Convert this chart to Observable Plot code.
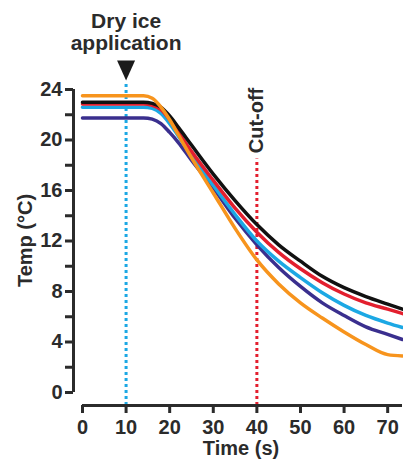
<!DOCTYPE html>
<html><head><meta charset="utf-8">
<script src="https://cdn.jsdelivr.net/npm/d3@7"></script>
<script src="https://cdn.jsdelivr.net/npm/@observablehq/plot@0.6"></script>
<style>html,body{margin:0;padding:0;background:#fff}</style>
</head><body><div id="chart"></div>
<script>
// time points (s)
const times = [0, 10, 14, 16, 18, 20, 22, 25, 30, 35, 40, 45, 50, 55, 60, 65, 70, 73.4];
// temperature series (°C)
const purpleSeries = [21.75, 21.75, 21.75, 21.65, 21.3, 20.6, 19.8, 18.4, 16.2, 13.8, 11.7, 9.9, 8.4, 7.1, 6.1, 5.2, 4.6, 4.2];
const blueSeries   = [22.6, 22.6, 22.6, 22.5, 22.1, 21.3, 20.3, 18.8, 16.4, 14.1, 12.0, 10.4, 9.1, 7.9, 6.9, 6.1, 5.5, 5.15];
const redSeries    = [22.85, 22.85, 22.85, 22.75, 22.4, 21.6, 20.6, 19.1, 16.8, 14.6, 12.7, 11.1, 9.8, 8.7, 7.8, 7.1, 6.6, 6.25];
const blackSeries  = [23.0, 23.0, 23.0, 22.9, 22.6, 21.9, 21.0, 19.6, 17.3, 15.2, 13.3, 11.7, 10.4, 9.2, 8.3, 7.6, 7.0, 6.6];
const orangeSeries = [23.5, 23.5, 23.5, 23.3, 22.6, 21.6, 20.4, 18.6, 15.8, 13.0, 10.5, 8.6, 7.1, 5.9, 4.8, 3.8, 3.0, 2.9];

const seriesNames  = ["trace 1", "trace 2", "trace 3", "trace 4", "trace 5"];
const seriesValues = [purpleSeries, blueSeries, redSeries, blackSeries, orangeSeries];
const seriesColors = ["#3a2f8e", "#1ca8e4", "#e31f2e", "#111111", "#f7941d"];

const xTicks = [0, 10, 20, 30, 40, 50, 60, 70];
const yTicks = [0, 2, 4, 6, 8, 10, 12, 14, 16, 18, 20, 22, 24];
const yTickLabels = [0, 4, 8, 12, 16, 20, 24];

const dryIceTime = 10;
const cutoffTime = 40;
const dryIceText = "Dry ice\napplication";
const cutoffText = "Cut-off";
const xTitle = "Time (s)";
const yTitle = "Temp (°C)";

const rows = seriesNames.flatMap((name, k) =>
  times.map((t, i) => ({series: name, t, v: seriesValues[k][i]})));

const X0 = -2.06, X1 = 73.4, Y0 = -1.03, Y1 = 24;
const ink = "#2b2b2b";
const downTriangle = {draw(ctx) { ctx.moveTo(-9, -10); ctx.lineTo(9, -10); ctx.lineTo(0, 10); ctx.closePath(); }};
const txt = {fontSize: 20, fontWeight: "bold", fill: ink, textAnchor: "middle", lineAnchor: "middle"};

const chart = Plot.plot({
  width: 403, height: 466,
  marginLeft: 73, marginRight: 1, marginTop: 89, marginBottom: 61,
  x: {domain: [X0, X1], axis: null},
  y: {domain: [Y0, Y1], axis: null},
  color: {domain: seriesNames, range: seriesColors},
  style: {fontFamily: "'Liberation Sans', Arial, Helvetica, sans-serif", fontSize: "20px", fontWeight: "bold", color: ink, background: "#fff", overflow: "visible"},
  marks: [
    Plot.ruleX([dryIceTime], {y1: Y0, y2: 24.55, stroke: "#1ca8e4", strokeWidth: 3, strokeDasharray: "3,3"}),
    Plot.ruleX([cutoffTime], {y1: Y0, y2: 18.5, stroke: "#e31f2e", strokeWidth: 3, strokeDasharray: "3,3"}),
    Plot.line(rows, {x: "t", y: "v", z: "series", stroke: "series", strokeWidth: 3.5, curve: "monotone-x"}),
    // axis spines
    Plot.ruleX([X0], {y1: 0, y2: Y1, stroke: ink, strokeWidth: 3}),
    Plot.ruleY([Y0], {x1: 0, x2: X1, stroke: ink, strokeWidth: 3}),
    // ticks
    Plot.ruleY(yTicks, {y: d => d, x1: X0, x2: X0, insetLeft: -8, stroke: ink, strokeWidth: 3}),
    Plot.ruleX(xTicks, {x: d => d, y1: Y0, y2: Y0, insetBottom: -8, stroke: ink, strokeWidth: 3}),
    // tick labels
    Plot.text(yTickLabels, {y: d => d, text: d => String(d), frameAnchor: "left", dx: -11, ...txt, textAnchor: "end"}),
    Plot.text(xTicks, {x: d => d, text: d => String(d), frameAnchor: "bottom", dy: 22, ...txt}),
    // axis titles
    Plot.text([xTitle], {frameAnchor: "bottom", dx: 3, dy: 43, ...txt}),
    Plot.text([yTitle], {frameAnchor: "left", rotate: -90, dx: -48, dy: -7, ...txt}),
    // annotations
    Plot.text([dryIceText], {x: dryIceTime, frameAnchor: "top", dy: -58, lineHeight: 1.05, ...txt, fontSize: 21}),
    Plot.dot([dryIceTime], {x: d => d, frameAnchor: "top", dy: -19, symbol: downTriangle, r: 5, fill: "#1a1a1a", stroke: "none"}),
    Plot.text([cutoffText], {x: cutoffTime, frameAnchor: "top", dy: 31, rotate: -90, ...txt})
  ]
});
document.getElementById("chart").appendChild(chart);
</script>
</body></html>
